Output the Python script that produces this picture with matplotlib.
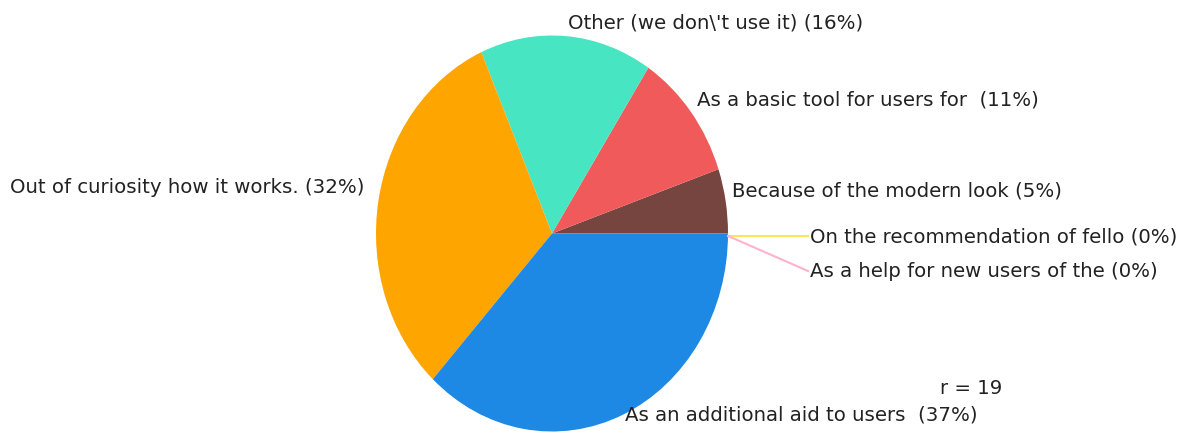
import matplotlib
matplotlib.use("Agg")
import matplotlib.pyplot as plt

# ---- data ----
categories = [
    "Because of the modern look",
    "As a basic tool for users for ",
    "Other (we don\\'t use it)",
    "Out of curiosity how it works.",
    "As an additional aid to users ",
    "As a help for new users of the",
    "On the recommendation of fello",
]
counts = [1, 2, 3, 6, 7, 0, 0]
percents = [5, 11, 16, 32, 37, 0, 0]
colors = ["#774540", "#F05A5A", "#48E5C2", "#FFA500", "#1E88E5", "#FFB3CC", "#FFE45C"]
total_label = "r = 19"

W, H = 1189, 440
fig = plt.figure(figsize=(W / 100, H / 100), dpi=100)
ax = fig.add_axes([0, 0, 1, 1])

# pie geometry in pixels
cx, cy, rx, ry = 552, 233.5, 176, 198
ax.pie(counts, colors=colors, startangle=0, counterclock=True,
       wedgeprops=dict(linewidth=0))
ax.set_aspect("auto")
ax.set_xlim(-cx / rx, (W - cx) / rx)
ax.set_ylim((cy - H) / ry, cy / ry)
ax.axis("off")

def fig_xy(px, py):
    return px / W, 1 - py / H

font = dict(family="DejaVu Sans", size=14.2, color="#222222")

# labels: (index, left x px, center y px)
label_pos = {
    2: (568, 23),
    1: (697, 100),
    0: (732, 191),
    6: (810, 237),
    5: (810, 271),
    3: (10, 187),
    4: (625, 415),
}
for i, (px, py) in label_pos.items():
    fig.text(*fig_xy(px, py), f"{categories[i]} ({percents[i]}%)",
             ha="left", va="center", **font)

# leader lines for zero slices
for i, (ex, ey) in {6: (808, 236), 5: (808, 271)}.items():
    fig.add_artist(plt.Line2D([728 / W, ex / W], [1 - 236 / H, 1 - ey / H],
                              color=colors[i], lw=1.5, transform=fig.transFigure))

fig.text(*fig_xy(1002, 389), total_label, ha="right", va="center", **font)

fig.savefig("out.png", dpi=100)
